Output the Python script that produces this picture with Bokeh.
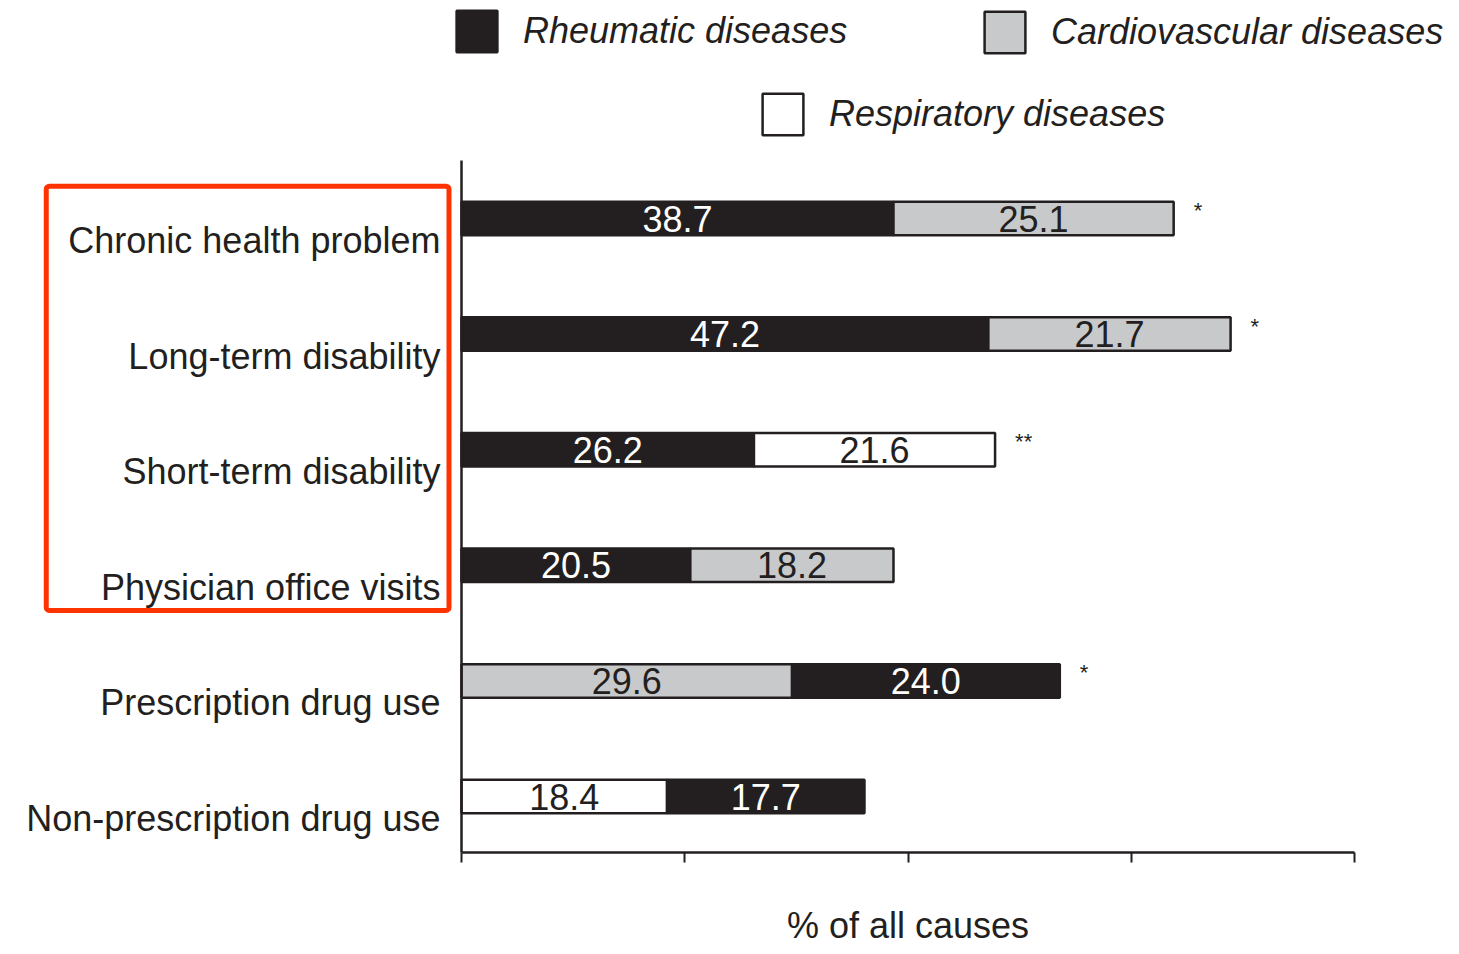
from bokeh.plotting import figure
from bokeh.models import (ColumnDataSource, Range1d, Legend, LegendItem,
                          BoxAnnotation, FixedTicker, LinearAxis)
from bokeh.core.properties import value
from bokeh.embed import file_html
from bokeh.resources import INLINE

# ---------------- data ----------------
categories = ["Chronic health problem", "Long-term disability", "Short-term disability",
              "Physician office visits", "Prescription drug use", "Non-prescription drug use"]
first_series = ["Rheumatic", "Rheumatic", "Rheumatic", "Rheumatic", "Cardiovascular", "Respiratory"]
first_values = [38.7, 47.2, 26.2, 20.5, 29.6, 18.4]
second_series = ["Cardiovascular", "Cardiovascular", "Respiratory", "Cardiovascular", "Rheumatic", "Rheumatic"]
second_values = [25.1, 21.7, 21.6, 18.2, 24.0, 17.7]
significance = ["*", "*", "**", "", "*", ""]
x_ticks = [0, 20, 40, 60, 80]
series_labels = {"Rheumatic": "Rheumatic diseases",
                 "Cardiovascular": "Cardiovascular diseases",
                 "Respiratory": "Respiratory diseases"}

# ---------------- styles / layout ----------------
INK = "#231f20"
FONT = "Liberation Sans"
fill_colors = {"Rheumatic": INK, "Cardiovascular": "#c8c9cb", "Respiratory": "#ffffff"}
text_colors = {"Rheumatic": "#ffffff", "Cardiovascular": INK, "Respiratory": INK}

W, H = 1452, 950            # canvas == frame
PX_PER_UNIT = 11.1625       # horizontal scale (px per %)
PX_PER_ROW = 115.6          # vertical scale (px per category row)
X0_PX, ROW0_PX = 461, 218   # where x=0 and the first row sit on the canvas
AXIS_BOTTOM = 5.484         # y of the x-axis (row units)
AXIS_TOP = -0.502

rows = list(range(len(categories)))

seg = {k: dict(y=[], left=[], right=[]) for k in series_labels}
txt = dict(x=[], y=[], t=[], c=[])
for r in rows:
    parts = [(first_series[r], 0.0, first_values[r]),
             (second_series[r], first_values[r], first_values[r] + second_values[r])]
    for s, a, b in parts:
        seg[s]["y"].append(r)
        seg[s]["left"].append(a)
        seg[s]["right"].append(b)
        txt["x"].append((a + b) / 2)
        txt["y"].append(r)
        txt["t"].append(f"{b - a:.1f}")
        txt["c"].append(text_colors[s])

totals = [a + b for a, b in zip(first_values, second_values)]
sig = dict(x=[], y=[], t=[])
for r in rows:
    if significance[r]:
        sig["x"].append(totals[r])
        sig["y"].append(r)
        sig["t"].append(significance[r])

x_range = Range1d(-X0_PX / PX_PER_UNIT, (W - X0_PX) / PX_PER_UNIT)
y_range = Range1d((H - ROW0_PX) / PX_PER_ROW, -ROW0_PX / PX_PER_ROW)

p = figure(width=W, height=H, x_range=x_range, y_range=y_range,
           x_axis_location=None, y_axis_location=None,
           output_backend="svg", toolbar_location=None, min_border=0)
p.outline_line_color = None
p.xgrid.visible = False
p.ygrid.visible = False
p.background_fill_color = "white"
p.border_fill_color = "white"

renderers = {}
for s in series_labels:
    src = ColumnDataSource(seg[s])
    renderers[s] = p.hbar(y="y", left="left", right="right", height=0.29, source=src,
                          fill_color=fill_colors[s], line_color=INK, line_width=2.5)

p.text(x="x", y="y", text="t", source=ColumnDataSource(txt), text_color="c",
       text_align="center", text_baseline="middle", text_font_size="36px",
       text_font=value(FONT))

p.text(x="x", y="y", text="t", source=ColumnDataSource(sig), x_offset=20, y_offset=-8,
       text_color=INK, text_align="left", text_baseline="alphabetic",
       text_font_size="22px", text_font=value(FONT))

p.text(x=[0] * len(rows), y=rows, text=categories, x_offset=-21, y_offset=22,
       text_align="right", text_baseline="alphabetic", text_font_size="36px",
       text_font=value(FONT), text_color=INK)

# axes placed inside the (full-canvas) frame
xaxis = LinearAxis(fixed_location=AXIS_BOTTOM, bounds=(x_ticks[0], x_ticks[-1]),
                   ticker=FixedTicker(ticks=x_ticks))
xaxis.major_tick_out = 10
xaxis.major_tick_in = 0
xaxis.minor_tick_line_color = None
xaxis.major_label_text_color = None
xaxis.major_label_standoff = 0
xaxis.axis_line_width = 2.5
xaxis.axis_line_color = INK
xaxis.major_tick_line_width = 2
xaxis.major_tick_line_color = INK
xaxis.axis_label = "% of all causes"
xaxis.axis_label_text_font = FONT
xaxis.axis_label_text_font_size = "36px"
xaxis.axis_label_text_font_style = "normal"
xaxis.axis_label_text_color = INK
xaxis.axis_label_standoff = 42
p.add_layout(xaxis, "below")

yaxis = LinearAxis(fixed_location=0, bounds=(AXIS_TOP, AXIS_BOTTOM),
                   ticker=FixedTicker(ticks=[]))
yaxis.major_label_text_color = None
yaxis.major_tick_line_color = None
yaxis.minor_tick_line_color = None
yaxis.axis_line_width = 2.5
yaxis.axis_line_color = INK
p.add_layout(yaxis, "left")

# legends (three separate one-item legends, arranged as in the original)
legend_pos = {"Rheumatic": (451, H - 57), "Cardiovascular": (979, H - 58),
              "Respiratory": (757, H - 140)}
for s, loc in legend_pos.items():
    lg = Legend(items=[LegendItem(label=series_labels[s], renderers=[renderers[s]])],
                location=loc, glyph_width=51, glyph_height=52, label_standoff=21,
                label_text_font=FONT, label_text_font_size="36px", label_text_font_style="italic",
                label_text_color=INK, padding=0, margin=0, border_line_color=None,
                background_fill_alpha=0, label_height=52)
    p.add_layout(lg, "center")

# highlight box around the first four categories
p.add_layout(BoxAnnotation(left=-37.2, right=-1.12, top=-0.28, bottom=3.39,
                           fill_alpha=0, line_color="#ff3300", line_alpha=1.0,
                           line_width=5, border_radius=3))

open("out.html", "w").write(file_html(p, INLINE))
